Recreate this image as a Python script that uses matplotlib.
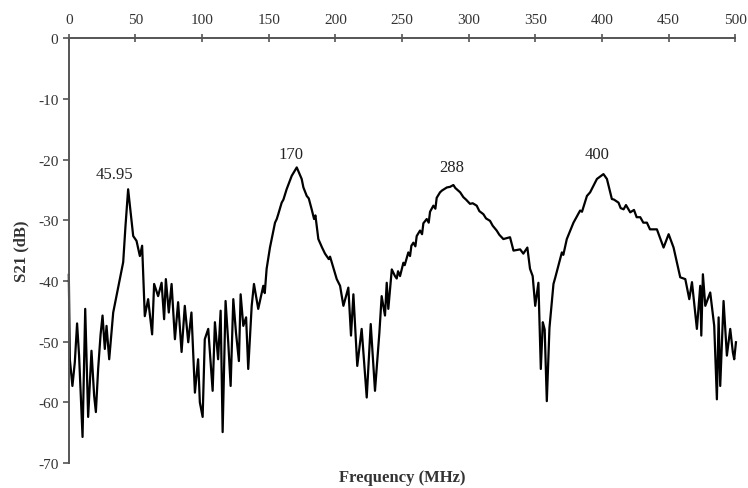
import numpy as np
import matplotlib.pyplot as plt

plt.rcParams['font.family'] = ['Liberation Serif', 'DejaVu Serif']
plt.rcParams['axes.unicode_minus'] = False

freq = [0, 0.75, 2.7, 4.5, 6.2, 7.7, 10.3, 12.3, 14.5, 17, 19, 20.3, 22, 23.8, 25.3,
        27, 28.3, 30.3, 33.3, 35.3, 38.3, 40.8, 42.5, 44.5, 46.5, 48.3, 50.8, 53.3, 55,
        57, 59.5, 62.5, 64, 67, 69.6, 71.5, 72.8, 75, 77.1, 79.6, 82, 84.6, 87, 89.6,
        92, 94.6, 97, 98.3, 100.4, 102, 104.6, 107.9, 109.6, 112, 113.9, 115.4, 117.6,
        119.6, 121.4, 123.4, 125.4, 127.6, 128.9, 130.9, 133, 134.6, 137.2, 138.9,
        142.1, 145.9, 147, 148.4, 150.9, 154.7, 156, 157, 159.7, 161, 163.4, 167.2,
        171, 174.7, 176, 178.5, 180, 182.2, 184, 185, 187.2, 190, 192.2, 195, 196,
        198.4, 201, 203.5, 206, 209.7, 211.7, 213.5, 216.4, 219.7, 223.5, 226.5, 229.7,
        233, 234.7, 237.2, 238.5, 239.7, 242.3, 244.7, 246, 247, 248.5, 251, 252,
        254.7, 256, 257, 258.5, 260, 261, 263.5, 265, 266, 268.5, 270, 271, 273.5, 275,
        276, 278.5, 280, 283.6, 286, 288.5, 290, 293.6, 296, 298, 301, 303, 306, 308,
        311, 313, 316, 318, 321, 323, 326, 331, 333.6, 338.6, 341, 344, 346, 348,
        349.9, 352.3, 354.1, 355.6, 357, 358.6, 360.6, 363.6, 365, 367.3, 369.9, 371,
        373.6, 376, 378.6, 383.6, 385, 388.7, 391.1, 396.2, 401.1, 403.7, 407.4, 409,
        412.4, 414, 416.2, 418, 421.2, 424, 426, 428.7, 431, 433.7, 436, 441.2, 446.2,
        450, 453.7, 458.7, 462.5, 465.5, 467.5, 471.2, 473.7, 474.5, 475.7, 477.5,
        481.2, 484.2, 486.2, 487.5, 488.7, 491.2, 493.7, 496.2, 498.2, 499.2, 500.5]
s21 = [-39, -52.9, -57.3, -53.4, -47, -52.3, -65.7, -44.6, -62.4, -51.5, -58.9, -61.6,
       -54.5, -48.9, -45.7, -51.2, -47.4, -52.9, -45.2, -43, -39.7, -36.9, -31, -24.9,
       -29, -32.6, -33.4, -35.9, -34.2, -45.8, -43, -48.8, -40.5, -42.5, -40.3, -46.3,
       -39.7, -45.2, -40.5, -49.6, -43.5, -51.7, -44.1, -50.1, -45.2, -58.4, -52.9, -60,
       -62.4, -49.6, -47.9, -58.1, -46.8, -52.9, -44.9, -64.9, -43.3, -50.1, -57.3, -43,
       -48.5, -53.2, -42.2, -47.4, -46, -54.5, -44.1, -40.5, -44.6, -40.8, -42, -38,
       -34.5, -30.4, -29.8, -29.1, -27.1, -26.6, -24.9, -22.7, -21.3, -23.2, -24.6, -26,
       -26.4, -28.2, -29.8, -29.2, -33.1, -34.5, -35.5, -36.4, -36.0, -37.8, -39.7,
       -40.8, -44.1, -41.1, -49, -42.2, -54, -47.9, -59.2, -47.1, -58.1, -48.5, -42.5,
       -45.7, -40.3, -44.6, -38.1, -39.2, -39.6, -38.4, -39.2, -37, -37.4, -35.3, -35.9,
       -34.2, -33.7, -34.3, -32.6, -31.7, -32.3, -30.5, -29.8, -30.4, -28.6, -27.6,
       -28.1, -26.3, -25.4, -25.1, -24.6, -24.5, -24.2, -24.7, -25.4, -26.2, -26.6,
       -27.3, -27.2, -27.6, -28.5, -29, -29.7, -30.1, -30.9, -31.7, -32.4, -33.1, -32.8,
       -35, -34.8, -35.5, -34.5, -38, -39.2, -44.1, -40.3, -54.5, -46.8, -48, -59.8,
       -47.7, -40.5, -39.4, -37.5, -35.3, -35.7, -33.1, -31.8, -30.4, -28.4, -28.6, -26,
       -25.4, -23.2, -22.4, -23.2, -26.5, -26.6, -27.1, -28.0, -28.2, -27.5, -28.7,
       -28.3, -29.5, -29.5, -30.4, -30.4, -31.5, -31.5, -34.5, -32.3, -34.5, -39.4,
       -39.7, -43, -40.2, -47.9, -40.8, -49, -38.9, -44.1, -41.9, -47.4, -59.5, -46,
       -57.3, -43.3, -52.3, -47.9, -51.8, -52.9, -50.1]

peak_labels = ['45.95', '170', '288', '400']
peak_x = [34.5, 166.7, 287.5, 396.4]
peak_y = [-22.4, -19.1, -21.2, -19.1]

fig = plt.figure(figsize=(7.48, 4.89), dpi=100)
ax = fig.add_axes([0.092, 0.051, 0.891, 0.869])
ax.plot(freq, s21, color='black', lw=1.6, clip_on=False)

for lab, x, y in zip(peak_labels, peak_x, peak_y):
    ax.text(x, y, lab, ha='center', va='center', fontsize=12, color='#222222')

ax.set_xlim(0, 500)
ax.set_ylim(-70, 0)
ax.set_xticks(np.arange(0, 501, 50))
ax.set_yticks(np.arange(-70, 1, 10))
ax.xaxis.tick_top()
ax.spines['bottom'].set_visible(False)
ax.spines['right'].set_visible(False)
for s in ['top', 'left']:
    ax.spines[s].set_color('#555555')
    ax.spines[s].set_linewidth(1.4)
ax.tick_params(axis='x', direction='inout', length=6, width=1.2, colors='#555555',
               labelcolor='#333333', labelsize=11, pad=6)
ax.tick_params(axis='y', direction='out', length=4, width=1.2, colors='#555555',
               labelcolor='#333333', labelsize=11)
ax.set_xlabel('Frequency (MHz)', fontsize=12, fontweight='bold', color='#333333',
              labelpad=4)
ax.xaxis.set_label_position('bottom')
ax.set_ylabel('S21 (dB)', fontsize=12, fontweight='bold', color='#333333', labelpad=6)

plt.savefig('out.png', dpi=100)
